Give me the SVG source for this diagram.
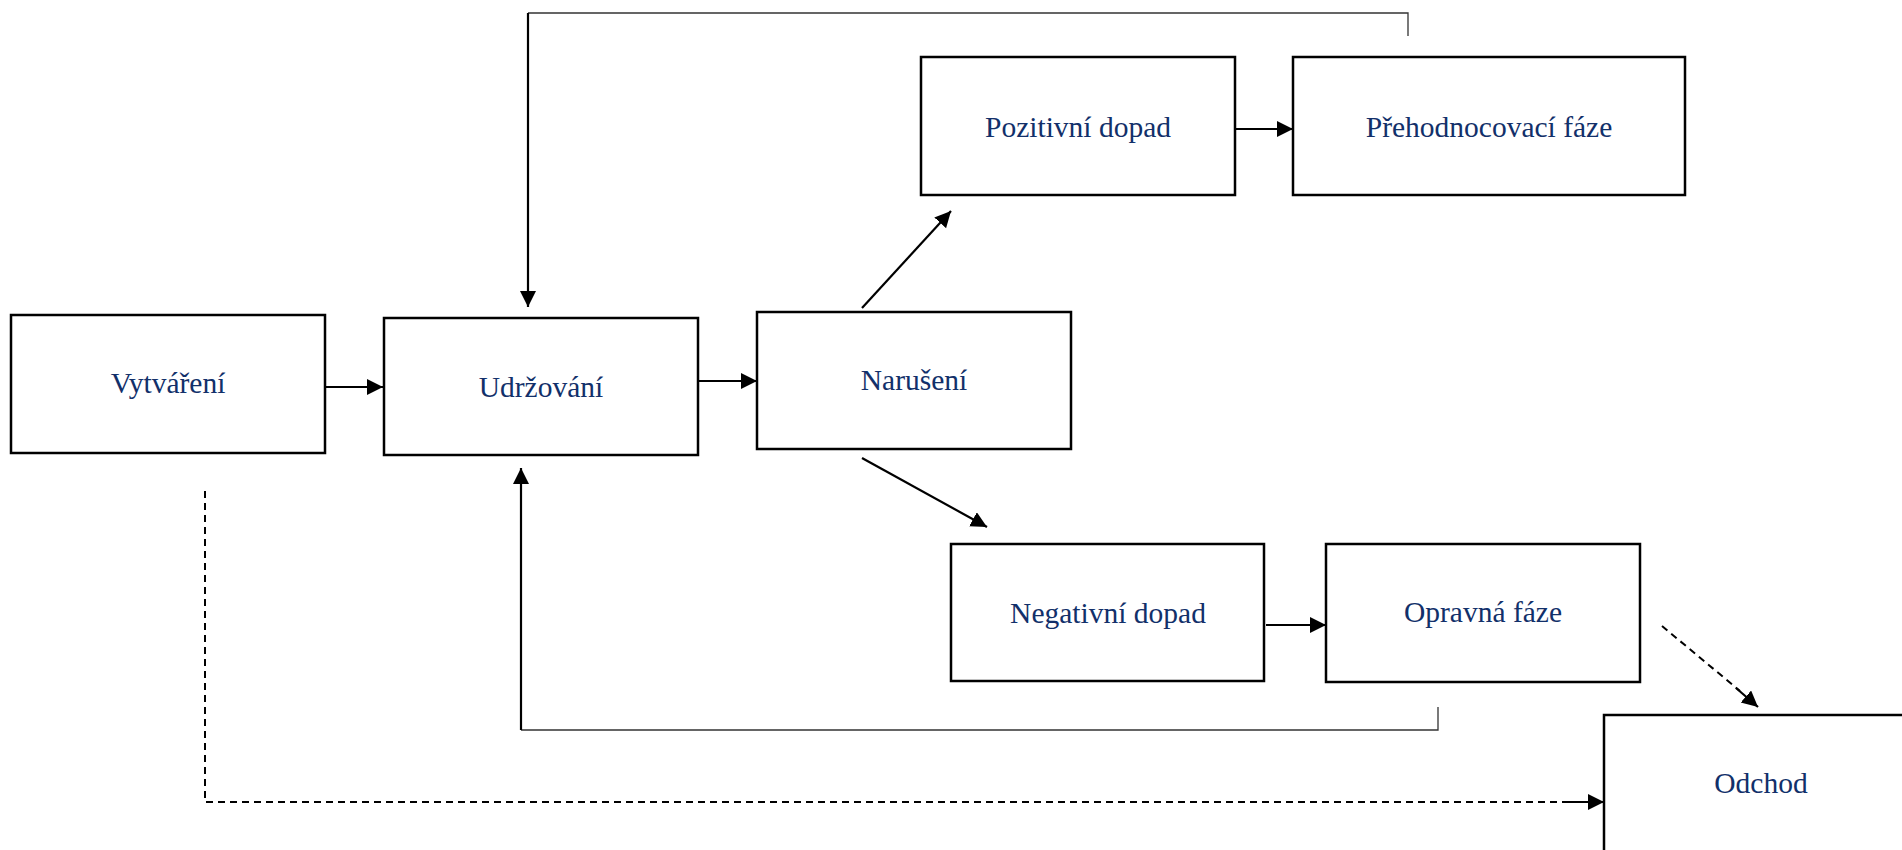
<svg xmlns="http://www.w3.org/2000/svg" width="1902" height="850" viewBox="0 0 1902 850">
<style>
.box{fill:#fff;stroke:#000;stroke-width:2.5}
.lbl{font-family:"Liberation Serif","Times New Roman",serif;font-size:29.5px;fill:#12306a;text-anchor:middle}
.arr{fill:none;stroke:#000;stroke-width:2.2}
.thin{fill:none;stroke:#333;stroke-width:1.3}
.dash{fill:none;stroke:#000;stroke-width:2;stroke-dasharray:7 5}
</style>
<defs>
<marker id="ah" markerUnits="userSpaceOnUse" markerWidth="18" markerHeight="18" refX="16" refY="8" orient="auto">
<path d="M0,0 L16,8 L0,16 z" fill="#000"/>
</marker>
</defs>
<rect width="1902" height="850" fill="#fff"/>
<g id="connectors">
<line class="arr" x1="325" y1="387" x2="383" y2="387" marker-end="url(#ah)"/>
<line class="arr" x1="698" y1="381" x2="757" y2="381" marker-end="url(#ah)"/>
<line class="arr" x1="862" y1="308" x2="951" y2="211" marker-end="url(#ah)"/>
<line class="arr" x1="862" y1="458" x2="987" y2="527" marker-end="url(#ah)"/>
<line class="arr" x1="1235" y1="129" x2="1293" y2="129" marker-end="url(#ah)"/>
<line class="arr" x1="1266" y1="625" x2="1326" y2="625" marker-end="url(#ah)"/>
<polyline class="thin" points="1408,36 1408,13 528,13"/>
<line class="arr" x1="528" y1="13" x2="528" y2="307" marker-end="url(#ah)"/>
<polyline class="thin" points="1438,707 1438,730 521,730"/>
<line class="arr" x1="521" y1="730" x2="521" y2="468" marker-end="url(#ah)"/>
<polyline class="dash" points="205,491 205,802 1562,802"/>
<line class="arr" x1="1562" y1="802" x2="1604" y2="802" marker-end="url(#ah)"/>
<line class="dash" x1="1662" y1="626" x2="1740" y2="691"/>
<line class="arr" x1="1736" y1="688" x2="1758" y2="707" marker-end="url(#ah)"/>
</g>
<g id="vytvareni">
<rect class="box" x="11" y="315" width="314" height="138"/>
<text class="lbl" x="168" y="393">Vytváření</text>
</g>
<g id="udrzovani">
<rect class="box" x="384" y="318" width="314" height="137"/>
<text class="lbl" x="541" y="397">Udržování</text>
</g>
<g id="naruseni">
<rect class="box" x="757" y="312" width="314" height="137"/>
<text class="lbl" x="914" y="390">Narušení</text>
</g>
<g id="pozitivni">
<rect class="box" x="921" y="57" width="314" height="138"/>
<text class="lbl" x="1078" y="137">Pozitivní dopad</text>
</g>
<g id="prehodnocovaci">
<rect class="box" x="1293" y="57" width="392" height="138"/>
<text class="lbl" x="1489" y="137">Přehodnocovací fáze</text>
</g>
<g id="negativni">
<rect class="box" x="951" y="544" width="313" height="137"/>
<text class="lbl" x="1108" y="623">Negativní dopad</text>
</g>
<g id="opravna">
<rect class="box" x="1326" y="544" width="314" height="138"/>
<text class="lbl" x="1483" y="622">Opravná fáze</text>
</g>
<g id="odchod">
<rect class="box" x="1604" y="715" width="314" height="138"/>
<text class="lbl" x="1761" y="793">Odchod</text>
</g>
</svg>
